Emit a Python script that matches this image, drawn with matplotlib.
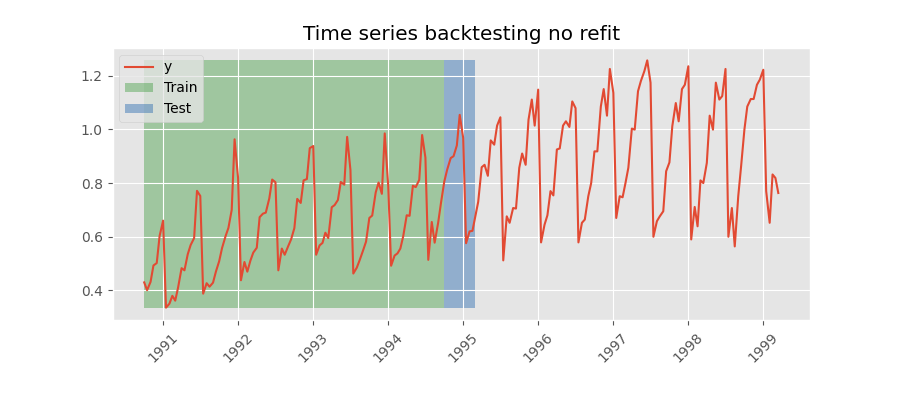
import numpy as np
import pandas as pd
import matplotlib
matplotlib.use('Agg')
import matplotlib.pyplot as plt

plt.style.use('ggplot')

# Serie (204 observaciones, frecuencia semi-mensual)
inicio = '1990-10-01'
valores = [
    0.430, 0.401, 0.432, 0.493, 0.502, 0.603,
    0.660, 0.336, 0.351, 0.380, 0.362, 0.411, 0.483, 0.475, 0.535, 0.569, 0.595, 0.771,
    0.752, 0.388, 0.427, 0.414, 0.429, 0.470, 0.509, 0.558, 0.602, 0.633, 0.700, 0.963,
    0.819, 0.438, 0.506, 0.470, 0.511, 0.541, 0.559, 0.673, 0.686, 0.690, 0.743, 0.813,
    0.803, 0.475, 0.556, 0.533, 0.565, 0.590, 0.632, 0.741, 0.726, 0.810, 0.815, 0.930,
    0.938, 0.533, 0.568, 0.577, 0.615, 0.595, 0.710, 0.718, 0.737, 0.804, 0.794, 0.972,
    0.849, 0.463, 0.485, 0.513, 0.550, 0.582, 0.670, 0.679, 0.765, 0.802, 0.760, 0.985,
    0.789, 0.492, 0.530, 0.538, 0.556, 0.602, 0.680, 0.678, 0.790, 0.785, 0.812, 0.979,
    0.895, 0.514, 0.655, 0.578, 0.652, 0.727, 0.806, 0.850, 0.893, 0.900, 0.940, 1.054,
    0.968, 0.576, 0.620, 0.622, 0.676, 0.730, 0.859, 0.868, 0.827, 0.959, 0.943, 1.014,
    1.045, 0.512, 0.676, 0.652, 0.707, 0.705, 0.857, 0.910, 0.868, 1.036, 1.111, 1.014,
    1.148, 0.579, 0.645, 0.680, 0.770, 0.754, 0.925, 0.929, 1.014, 1.030, 1.009, 1.104,
    1.079, 0.579, 0.652, 0.664, 0.751, 0.800, 0.918, 0.918, 1.085, 1.150, 1.051, 1.225,
    1.136, 0.670, 0.751, 0.747, 0.800, 0.857, 1.003, 0.999, 1.142, 1.180, 1.217, 1.257,
    1.174, 0.600, 0.658, 0.676, 0.695, 0.844, 0.877, 1.012, 1.098, 1.030, 1.150, 1.166,
    1.235, 0.590, 0.711, 0.639, 0.810, 0.800, 0.875, 1.051, 0.999, 1.174, 1.111, 1.124,
    1.225, 0.600, 0.707, 0.564, 0.751, 0.863, 0.999, 1.085, 1.113, 1.113, 1.166, 1.185,
    1.222, 0.770, 0.652, 0.832, 0.819, 0.763,
]

# Ventanas de entrenamiento y test (en numero de observaciones)
fin_train = 96
fin_test = 106

fechas = pd.date_range(inicio, periods=len(valores), freq='SMS')
y = pd.Series(valores, index=fechas)

fig, ax = plt.subplots(figsize=(9, 4), dpi=100)
fig.subplots_adjust(bottom=0.2)

ax.plot(y.index, y.values, label='y', zorder=3)

# las ventanas van debajo de la rejilla
ax.fill_between([fechas[0], fechas[fin_train]], y.min(), y.max(),
                color='green', alpha=0.3, label='Train', linewidth=0, zorder=0.3)
ax.fill_between([fechas[fin_train], fechas[fin_test]], y.min(), y.max(),
                color='#2b6cb0', alpha=0.45, label='Test', linewidth=0, zorder=0.3)

ax.set_title('Time series backtesting no refit')
ax.legend(loc='upper left')
plt.setp(ax.get_xticklabels(), rotation=45)

fig.savefig('out.png')
